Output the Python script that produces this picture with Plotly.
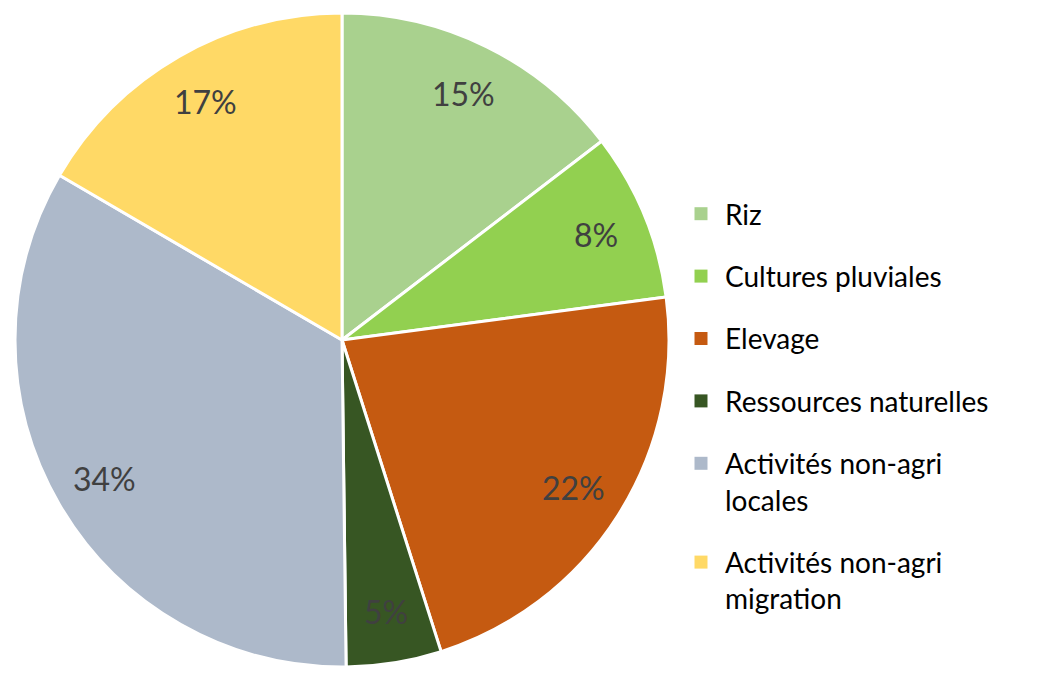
import math
import plotly.graph_objects as go

labels = ["Riz", "Cultures pluviales", "Elevage", "Ressources naturelles",
          "Activités non-agri<br>locales", "Activités non-agri<br>migration"]
values = [14.6, 8.3, 22.2, 4.7, 33.6, 16.6]
colors = ["#A9D18E", "#92D050", "#C55A11", "#375623", "#ADB9CA", "#FFD966"]

W, H = 1038, 677
cx, cy, R = 342, 340, 327
FONT = "Lato, 'Noto Sans', sans-serif"

fig = go.Figure()
fig.add_trace(go.Pie(
    labels=labels, values=values, sort=False, direction="clockwise", rotation=0,
    marker=dict(colors=colors, line=dict(color="white", width=3)),
    textinfo="none", hoverinfo="label+percent", showlegend=False,
    domain=dict(x=[(cx - R) / W, (cx + R) / W], y=[(H - cy - R) / H, (H - cy + R) / H]),
))

# legend entries
for i, (lab, col) in enumerate(zip(labels, colors)):
    fig.add_trace(go.Scatter(
        x=[None], y=[None], mode="markers", name=lab, legendgroup=str(i),
        marker=dict(symbol="square", size=13, color=col),
    ))

# percentage labels
total = sum(values)
cum = 0
annotations = []
for v in values:
    mid = (cum + v / 2) / total * 2 * math.pi
    cum += v
    rr = R * 0.84
    px = cx + rr * math.sin(mid)
    py = cy - rr * math.cos(mid)
    annotations.append(dict(
        x=px / W, y=1 - py / H, xref="paper", yref="paper", showarrow=False,
        xanchor="center", yanchor="middle",
        text=f"{round(v / total * 100)}%", font=dict(size=32, color="#404040", family=FONT),
    ))

fig.update_layout(
    width=W, height=H, margin=dict(l=0, r=0, t=0, b=0, autoexpand=False),
    paper_bgcolor="white", plot_bgcolor="white",
    xaxis=dict(visible=False), yaxis=dict(visible=False),
    annotations=annotations,
    legend=dict(x=677 / W, y=1 - 189 / H, xanchor="left", yanchor="top",
                font=dict(size=28, color="#000000", family=FONT),
                tracegroupgap=23, valign="top", itemclick=False, itemwidth=38),
)
fig.write_html("out.html", config={"displayModeBar": False},
               post_script="document.body.style.margin='0px';")
